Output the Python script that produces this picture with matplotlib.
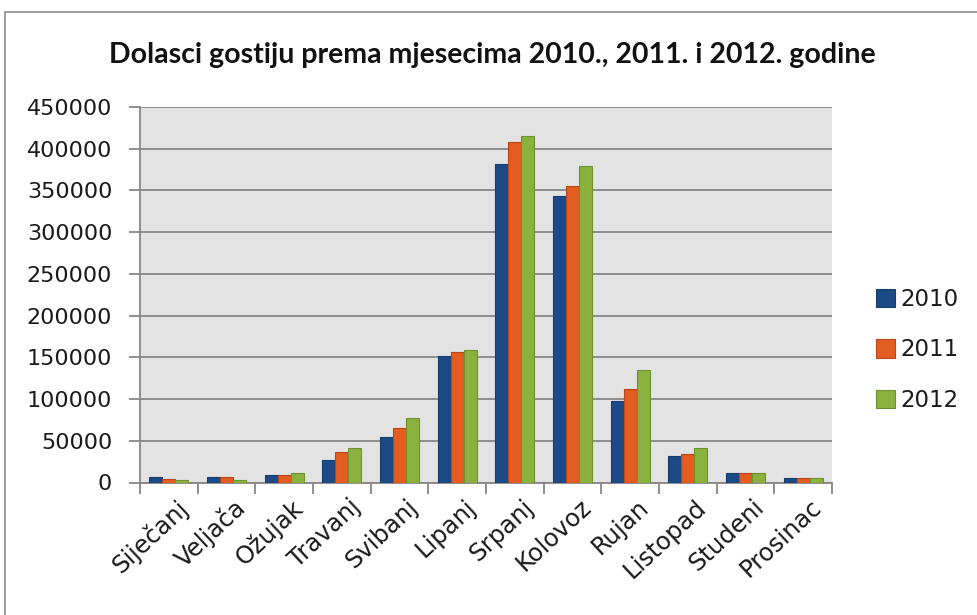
import matplotlib.pyplot as plt
import matplotlib.transforms as mtransforms
import numpy as np
from matplotlib.patches import Rectangle

# data
months = ['Siječanj', 'Veljača', 'Ožujak', 'Travanj', 'Svibanj', 'Lipanj',
          'Srpanj', 'Kolovoz', 'Rujan', 'Listopad', 'Studeni', 'Prosinac']
years = ['2010', '2011', '2012']
arr_2010 = [6600, 6200, 9000, 27000, 55000, 151000, 382000, 343000, 97700, 32100, 11400, 5800]
arr_2011 = [3800, 6500, 9000, 37000, 65000, 156000, 408000, 355500, 112000, 34200, 11400, 5800]
arr_2012 = [3500, 3500, 11400, 41700, 77700, 158500, 415000, 378700, 135000, 41700, 11400, 5800]

colors = ['#1B4A86', '#E35C20', '#8BB13E']
edges = ['#163d6e', '#b8461a', '#6f9230']

fig = plt.figure(figsize=(9.77, 6.15), dpi=100)
fig.patch.set_facecolor('white')

# outer chart frame
fig.patches.append(Rectangle((5 / 977, -0.05), 1.2, 1 - 12 / 615 + 0.05,
                             transform=fig.transFigure, fill=False,
                             edgecolor='#8c8c8c', linewidth=1.2))

ax = fig.add_axes([140 / 977, 1 - 482.5 / 615, 692 / 977, 375.5 / 615])
ax.set_facecolor('#E3E3E3')

x = np.arange(len(months))
w = 0.225
for i, (vals, c, e, yr) in enumerate(zip([arr_2010, arr_2011, arr_2012], colors, edges, years)):
    ax.bar(x + (i - 1) * w, vals, width=w, color=c, edgecolor=e, linewidth=0.8,
           label=yr, zorder=3)

ax.set_xlim(-0.5, len(months) - 0.5)
ax.set_ylim(0, 450000)
ax.set_yticks(np.arange(0, 450001, 50000))
ax.yaxis.grid(True, color='#868686', linewidth=1.3, zorder=0)
ax.set_axisbelow(True)

ax.set_xticks(x)
ax.set_xticklabels(months, rotation=43, ha='right', va='top',
                   rotation_mode='anchor', fontsize=17.5, color='#1a1a1a')
ax.set_xticks(np.arange(-0.5, len(months), 1), minor=True)
ax.tick_params(axis='x', which='major', length=0, pad=9)
ax.tick_params(axis='x', which='minor', length=8, width=1.3, color='#868686')
ax.tick_params(axis='y', length=8, width=1.3, color='#868686', pad=12,
               labelsize=16, labelcolor='#1a1a1a')
# shift month labels a little to the right of the group centre
shift = mtransforms.ScaledTranslation(7 / 100, 0, fig.dpi_scale_trans)
for lab in ax.get_xticklabels():
    lab.set_transform(lab.get_transform() + shift)

for s in ['top', 'right']:
    ax.spines[s].set_visible(False)
for s in ['left', 'bottom']:
    ax.spines[s].set_color('#868686')
    ax.spines[s].set_linewidth(1.3)

fig.text(0.5 + 4 / 977, 1 - 55 / 615, 'Dolasci gostiju prema mjesecima 2010., 2011. i 2012. godine',
         ha='center', va='center', fontsize=20.5, fontweight='bold',
         family='Lato', color='#111111')

leg = ax.legend(loc='center left', bbox_to_anchor=(855 / 977, 1 - 350 / 615),
                bbox_transform=fig.transFigure, frameon=False, fontsize=16.5,
                handlelength=0.85, handleheight=0.85, handletextpad=0.25,
                labelspacing=1.2)
for t in leg.get_texts():
    t.set_color('#1a1a1a')

fig.savefig('out.png', dpi=100)
